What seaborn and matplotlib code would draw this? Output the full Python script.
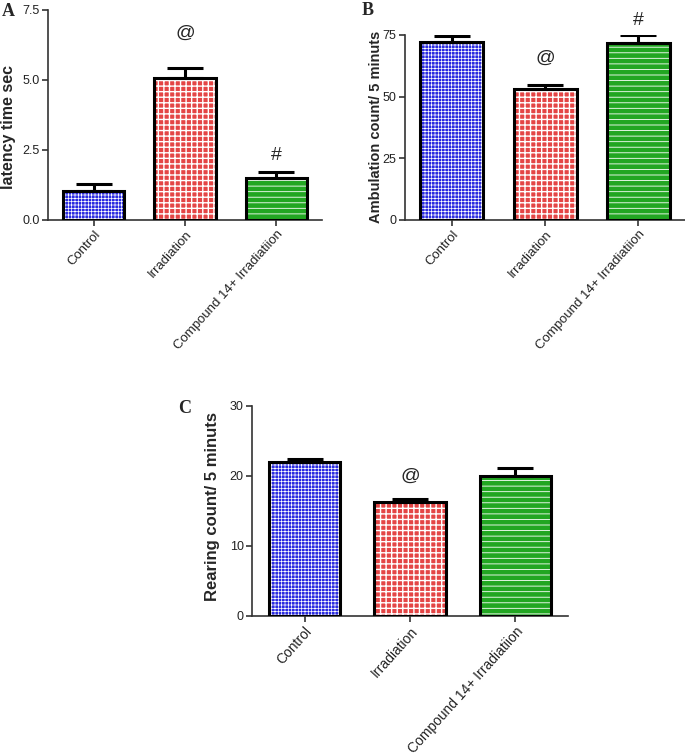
import matplotlib
matplotlib.use("Agg")
import matplotlib.pyplot as plt
import matplotlib.patches as mpatches
import seaborn as sns
import pandas as pd
import numpy as np

# ---------------- data ----------------
groups = ["Control", "Irradiation", "Compound 14+ Irradiatiion"]
latency_mean = [1.05, 5.08, 1.51]
latency_sem = [0.22, 0.36, 0.20]
ambulation_mean = [72.0, 53.0, 71.6]
ambulation_sem = [2.5, 1.7, 3.4]
rearing_mean = [22.0, 16.3, 20.0]
rearing_sem = [0.4, 0.4, 1.1]

latency_marks = ["", "@", "#"]
latency_mark_y = [None, 6.68, 2.32]
ambulation_marks = ["", "@", "#"]
ambulation_mark_y = [None, 65.7, 80.8]
rearing_marks = ["", "@", ""]
rearing_mark_y = [None, 19.9, None]

latency_ticks = [0.0, 2.5, 5.0, 7.5]
ambulation_ticks = [0, 25, 50, 75]
rearing_ticks = [0, 10, 20, 30]

face_colors = ["#0a0aff", "#ff2a2a", "#0cbc0c"]
hatches = ["+++++", "+++", "---"]
hatch_lw = [0.5, 1.0, 0.6]

sns.set_theme(style="white")
plt.rcParams["font.family"] = ["Liberation Sans", "DejaVu Sans"]
plt.rcParams["hatch.linewidth"] = 0.6

W, H = 685, 755
fig = plt.figure(figsize=(W / 100, H / 100), dpi=100)


def px_axes(left, top, right, bottom):
    return fig.add_axes([left / W, 1 - bottom / H, (right - left) / W, (bottom - top) / H])


def panel(ax, means, sems, ylabel, ylabel_size, ylabel_xy, ticks, marks, mark_y, fmt,
          xtick_size, letter, letter_xy):
    df = pd.DataFrame({"group": groups, "value": means})
    sns.barplot(data=df, x="group", y="value", hue="group", order=groups,
                palette=face_colors, errorbar=None, width=0.675,
                edgecolor="white", linewidth=0, legend=False, ax=ax)
    bars = list(ax.patches)
    for i, p in enumerate(bars):
        p.set_hatch(hatches[i])
        p.set_edgecolor("white")
        p.set_linewidth(0)
        if hasattr(p, "set_hatch_linewidth"):
            p.set_hatch_linewidth(hatch_lw[i])
        outline = mpatches.Rectangle(p.get_xy(), p.get_width(), p.get_height(),
                                     fill=False, edgecolor="black", linewidth=2.2,
                                     zorder=4, joinstyle="miter")
        ax.add_patch(outline)
    x = np.arange(len(groups))
    ax.errorbar(x, means, yerr=[np.zeros(len(sems)), sems], fmt="none",
                ecolor="black", elinewidth=2.2, capsize=13, capthick=2.2, zorder=3)
    for i, m in enumerate(marks):
        if m:
            ax.text(x[i], mark_y[i], m, ha="center", va="center", fontsize=14,
                    clip_on=False)
    ax.set_xlim(-0.5, len(groups) - 0.5)
    ax.set_ylim(ticks[0], ticks[-1])
    ax.set_yticks(ticks)
    ax.set_yticklabels([fmt.format(t) for t in ticks], fontsize=9, color="#222222")
    ax.set_xticks(x)
    ax.set_xticklabels(groups, rotation=48, ha="right", rotation_mode="anchor",
                       fontsize=xtick_size, color="#222222")
    ax.set_xlabel("")
    ax.set_ylabel(ylabel, fontsize=ylabel_size, fontweight="bold")
    ax.yaxis.set_label_coords(*ylabel_xy)
    for s in ["top", "right"]:
        ax.spines[s].set_visible(False)
    for s in ["left", "bottom"]:
        ax.spines[s].set_color("#333333")
        ax.spines[s].set_linewidth(1.2)
    ax.tick_params(axis="both", which="both", direction="out", length=4, width=1.2,
                   color="#333333", left=True, bottom=True, pad=2)
    fig.text(letter_xy[0] / W, 1 - letter_xy[1] / H, letter, fontsize=13,
             fontweight="bold", family=["Liberation Serif", "DejaVu Serif"],
             ha="left", va="top")


axA = px_axes(48, 10, 322, 220)
panel(axA, latency_mean, latency_sem, "latency time sec", 11.5, (-0.115, 0.443),
      latency_ticks, latency_marks, latency_mark_y, "{:.1f}", 9.5, "A", (2, 3))

axB = px_axes(405, 35, 685, 220)
panel(axB, ambulation_mean, ambulation_sem, "Ambulation count/ 5 minuts", 10.5,
      (-0.078, 0.505), ambulation_ticks, ambulation_marks, ambulation_mark_y, "{:.0f}",
      9.5, "B", (362, 2))

axC = px_axes(252, 406, 568, 616)
panel(axC, rearing_mean, rearing_sem, "Rearing count/ 5 minuts", 12, (-0.1, 0.521),
      rearing_ticks, rearing_marks, rearing_mark_y, "{:.0f}", 10, "C", (178, 400))

fig.savefig("out.png", dpi=100)
